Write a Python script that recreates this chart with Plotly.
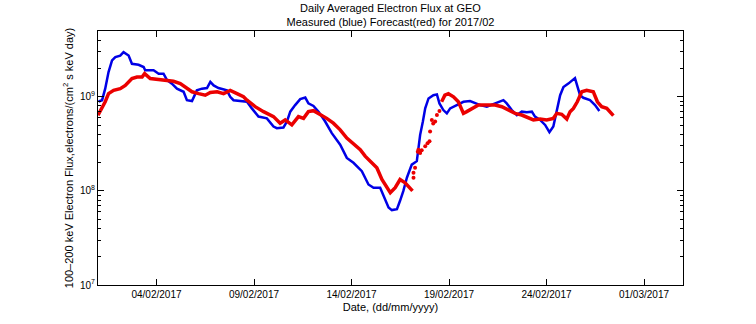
import pandas as pd
import plotly.graph_objects as go

# Day of month (Feb 2017, fractional) and flux values
blue_day = [1.03, 1.21, 1.37, 1.54, 1.72, 1.89, 2.14, 2.31, 2.57, 2.74, 3.08, 3.34, 3.42, 3.85, 4.11, 4.36,
            4.54, 4.79, 5.05, 5.39, 5.56, 5.82, 6.07, 6.33, 6.59, 6.76, 6.93, 7.18, 7.61, 7.78, 7.95, 8.38,
            8.64, 8.89, 9.23, 9.66, 10.0, 10.17, 10.51, 10.69, 10.86, 11.11, 11.37, 11.63, 11.79, 12.05,
            12.31, 12.65, 12.99, 13.42, 13.76, 14.10, 14.53, 14.87, 15.13, 15.47, 15.73, 15.90, 16.07,
            16.33, 16.49, 16.66, 16.84, 17.09, 17.35, 17.43, 17.52, 17.66, 17.78, 17.95, 18.20, 18.38,
            18.51, 18.71, 18.89, 19.06, 19.40, 19.74, 20.08, 20.34, 20.60, 20.94, 21.36, 21.79, 21.96,
            22.22, 22.48, 22.73, 22.99, 23.25, 23.41, 23.67, 23.93, 24.15, 24.35, 24.53, 24.70, 24.87,
            25.12, 25.46, 25.58, 25.72, 25.89, 26.23, 26.49, 26.71]
blue_flux = [8.9e8, 9.2e8, 1.22e9, 1.83e9, 2.43e9, 2.64e9, 2.74e9, 2.98e9, 2.74e9, 2.24e9, 2.19e9, 2.07e9,
             1.91e9, 1.91e9, 1.76e9, 1.76e9, 1.50e9, 1.38e9, 1.22e9, 1.13e9, 9.2e8, 9.0e8, 1.17e9, 1.22e9,
             1.24e9, 1.44e9, 1.32e9, 1.24e9, 1.17e9, 1.0e9, 9.2e8, 9.0e8,
             8.85e8, 7.53e8, 6.16e8, 5.9e8, 4.83e8, 4.64e8, 4.72e8, 5.46e8, 6.95e8, 8.16e8, 9.44e8, 9.8e8,
             8.5e8, 8.0e8, 6.95e8, 5.46e8, 4.11e8, 3.1e8, 2.24e8, 1.99e8, 1.62e8, 1.17e8, 1.08e8, 1.08e8,
             8.16e7, 6.67e7, 6.25e7, 6.4e7, 7.85e7, 1.0e8, 1.38e8, 1.9e8, 2.07e8, 2.74e8, 3.94e8, 5.46e8,
             7.53e8, 9.6e8, 1.04e9, 1.06e9, 8.5e8, 7.23e8, 6.67e8, 7.53e8, 8.16e8, 8.85e8, 9.0e8, 8.5e8,
             8.16e8, 7.85e8, 8.5e8, 9.2e8, 8.5e8, 7.23e8, 6.4e8, 6.95e8, 6.84e8, 6.95e8, 6.16e8, 5.67e8,
             5.02e8, 4.21e8, 4.83e8, 6.95e8, 1.04e9, 1.27e9, 1.38e9, 1.58e9, 1.32e9, 1.04e9, 9.76e8,
             9.2e8, 8.16e8, 7.05e8]

red_day = [1.0, 1.21, 1.37, 1.54, 1.80, 2.14, 2.40, 2.74, 3.0, 3.26, 3.39, 3.68, 4.11, 4.45, 4.87, 5.22,
           5.56, 5.82, 6.16, 6.50, 6.76, 7.11, 7.44, 7.78, 8.13, 8.46, 8.64, 9.06, 9.49, 10.0, 10.34,
           10.60, 10.94, 11.28, 11.54, 11.79, 12.05, 12.39, 12.73, 13.07, 13.42, 13.76, 14.19, 14.45,
           14.70, 15.04, 15.30, 15.56, 15.73, 15.99, 16.24, 16.49, 16.75, 17.01, 17.13, None,
           18.62, 18.79, 18.97, 19.23, 19.48, 19.74, 19.91, 20.17, 20.51, 20.94, 21.36, 21.71, 22.05,
           22.39, 22.73, 23.07, 23.33, 23.67, 24.01, 24.35, 24.53, 24.78, 25.04, 25.21, 25.38, 25.58,
           25.81, 26.06, 26.40, 26.61, 26.83, 27.09, 27.43]
red_flux = [6.36e8, 7.53e8, 8.85e8, 1.08e9, 1.17e9, 1.22e9, 1.32e9, 1.56e9, 1.62e9, 1.62e9, 1.76e9, 1.56e9,
            1.53e9, 1.50e9, 1.46e9, 1.38e9, 1.22e9, 1.13e9, 1.08e9, 1.04e9, 1.11e9, 1.13e9, 1.08e9,
            1.17e9, 1.08e9, 1.0e9, 9.2e8, 7.85e8, 6.95e8, 6.16e8, 5.24e8, 5.67e8, 5.02e8, 6.16e8, 5.9e8,
            6.95e8, 7.12e8, 6.51e8, 5.9e8, 5.24e8, 4.45e8, 3.64e8, 3.1e8, 2.74e8, 2.34e8, 1.99e8, 1.76e8,
            1.32e8, 1.17e8, 9.55e7, 1.08e8, 1.32e8, 1.22e8, 1.04e8, 1.0e8, None,
            8.85e8, 1.04e9, 1.08e9, 1.0e9, 8.85e8, 6.67e8, 6.95e8, 7.53e8, 8.16e8, 8.16e8, 8.16e8,
            7.85e8, 7.23e8, 6.67e8, 6.4e8, 5.9e8, 5.67e8, 5.8e8, 5.67e8, 5.9e8, 6.67e8, 6.51e8, 5.8e8,
            6.95e8, 7.53e8, 8.85e8, 1.13e9, 1.17e9, 1.13e9, 8.85e8, 7.85e8, 7.53e8, 6.3e8]

# Scattered forecast points during the fast rise
red_jump_day = [17.18, 17.18, 17.26, 17.40, 17.43, 17.47, 17.52, 17.60, 17.78, 17.90, 18.0, 18.03, 18.12,
                18.19, 18.29, 18.38, 18.51]
red_jump_flux = [1.38e8, 1.56e8, 1.76e8, 2.6e8, 2.74e8, 2.66e8, 2.53e8, 2.7e8, 2.98e8, 3.2e8, 3.36e8,
                 4.28e8, 5.67e8, 5.2e8, 5.46e8, 6.4e8, 7.05e8]

xtick_days = [4, 9, 14, 19, 24, 29]
xtick_labels = ["04/02/2017", "09/02/2017", "14/02/2017", "19/02/2017", "24/02/2017", "01/03/2017"]
ytick_vals = [1e7, 1e8, 1e9]
ytick_labels = ["10<sup>7</sup>", "10<sup>8</sup>", "10<sup>9</sup>"]

base = pd.Timestamp("2017-02-01")


def to_dates(days):
    return [None if d is None else base + pd.Timedelta(days=d - 1) for d in days]


fig = go.Figure()
fig.add_trace(go.Scatter(x=to_dates(blue_day), y=blue_flux, mode="lines",
                         line=dict(color="rgb(0,0,230)", width=2.5), showlegend=False))
fig.add_trace(go.Scatter(x=to_dates(red_day), y=red_flux, mode="lines",
                         line=dict(color="rgb(235,0,0)", width=3.5), connectgaps=False, showlegend=False))
fig.add_trace(go.Scatter(x=to_dates(red_jump_day), y=red_jump_flux, mode="markers",
                         marker=dict(color="rgb(235,0,0)", size=4), showlegend=False))

minor_vals = [m * 10 ** e for e in (7, 8, 9) for m in range(2, 10) if m * 10 ** e <= 5e9]

fig.update_layout(
    width=756, height=324,
    margin=dict(l=98, r=73, t=31, b=36),
    paper_bgcolor="white", plot_bgcolor="white",
    font=dict(family="Liberation Sans, Arial, sans-serif", size=10, color="black"),
    title=dict(text="Daily Averaged Electron Flux at GEO<br>Measured (blue) Forecast(red) for 2017/02",
               x=0.5, xref="paper", xanchor="center", y=1, yref="paper", yanchor="bottom",
               pad=dict(b=19), font=dict(size=11)),
    xaxis=dict(
        type="date",
        range=[base, base + pd.Timedelta(days=30)],
        tickvals=to_dates(xtick_days), ticktext=xtick_labels,
        ticks="inside", ticklen=6, tickcolor="black",
        showline=True, linecolor="black", linewidth=1, mirror="allticks",
        showgrid=False, zeroline=False,
        title=dict(text="Date, (dd/mm/yyyy)", font=dict(size=11), standoff=4),
        tickfont=dict(size=10),
    ),
    yaxis=dict(
        type="log",
        range=[7, 9.699],
        tickvals=ytick_vals, ticktext=ytick_labels,
        ticks="inside", ticklen=6, tickcolor="black",
        minor=dict(ticks="inside", ticklen=3, tickcolor="black", tickvals=minor_vals, showgrid=False),
        showline=True, linecolor="black", linewidth=1, mirror="allticks",
        showgrid=False, zeroline=False,
        title=dict(text="100\u2013200 keV Electron Flux,electrons/(cm<sup>2</sup> s keV day)",
                   font=dict(size=11), standoff=4),
        tickfont=dict(size=10),
    ),
)

fig.write_html("out.html")
